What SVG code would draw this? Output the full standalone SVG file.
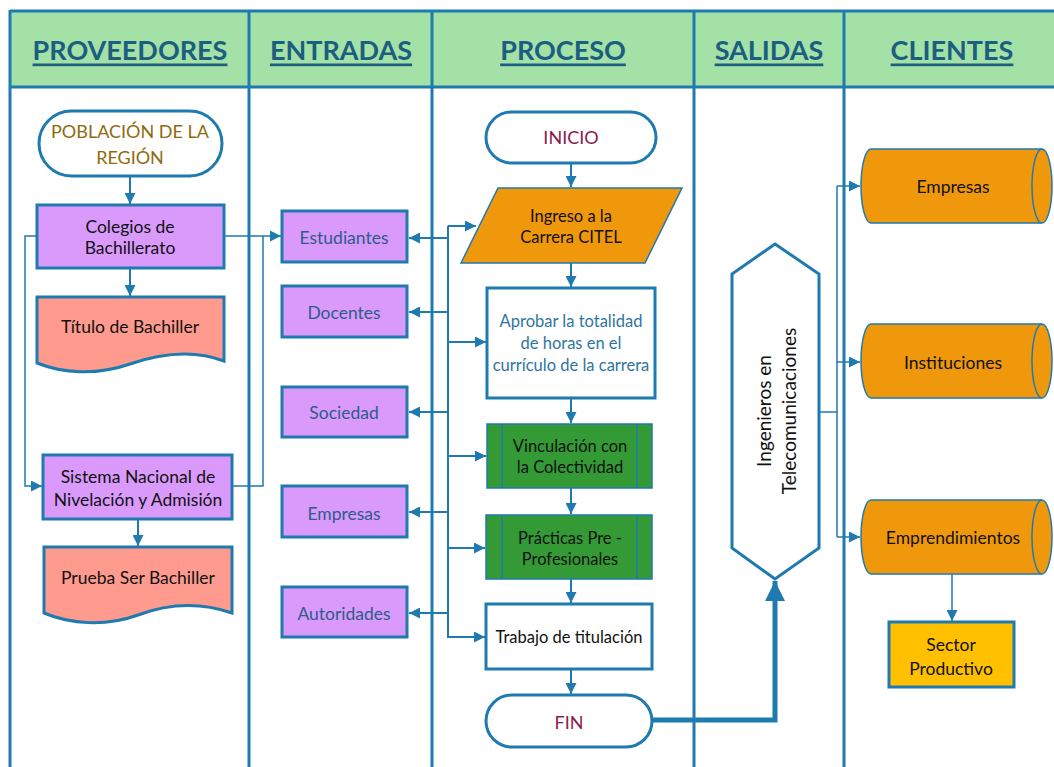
<svg xmlns="http://www.w3.org/2000/svg" width="1054" height="767" viewBox="0 0 1054 767">
<defs>
<marker id="ah" viewBox="0 0 10 10" refX="10" refY="5" markerWidth="11" markerHeight="11" markerUnits="userSpaceOnUse" orient="auto"><path d="M0,0 L10,5 L0,10 z" fill="#1f7ab0"/></marker>
<marker id="ahb" viewBox="0 0 10 10" refX="10" refY="5" markerWidth="20" markerHeight="20" markerUnits="userSpaceOnUse" orient="auto"><path d="M0,0 L10,5 L0,10 z" fill="#1f7ab0"/></marker>
</defs>
<style>
text{font-family:Lato,"Open Sans","Liberation Sans",sans-serif;text-anchor:middle;dominant-baseline:central}
.hd{font-size:27px;font-weight:bold;fill:#1b5e80;text-decoration:underline}
.lane{stroke:#1f7ab0;stroke-width:3;fill:none}
.box{stroke:#1f7ab0;stroke-width:3}
.thin{stroke:#1f7ab0;stroke-width:1.5}
.purple{fill:#d99afc}
.doc{fill:#ff9a8e}
.orange{fill:#f0980c}
.green{fill:#339a35}
.t{font-size:17.5px;fill:#111}
.tb{font-size:17.5px;fill:#2e5c8a}
.tp{font-size:16.5px;fill:#111}
.conn{stroke:#1f7ab0;stroke-width:2;fill:none}
.conn1{stroke:#1f7ab0;stroke-width:1.5;fill:none}
</style>
<rect width="1054" height="767" fill="#fff"/>
<g id="lanes">
<rect x="10" y="11" width="1050" height="76" fill="#a3e1a6"/>
<line class="lane" x1="10" y1="11" x2="1060" y2="11"/>
<line class="lane" x1="10" y1="87" x2="1060" y2="87"/>
<line class="lane" x1="10" y1="10" x2="10" y2="767"/>
<line class="lane" x1="249" y1="10" x2="249" y2="767"/>
<line class="lane" x1="432" y1="10" x2="432" y2="767"/>
<line class="lane" x1="694" y1="10" x2="694" y2="767"/>
<line class="lane" x1="844" y1="10" x2="844" y2="767"/>
<text class="hd" x="130" y="49">PROVEEDORES</text>
<text class="hd" x="341" y="49">ENTRADAS</text>
<text class="hd" x="563" y="49">PROCESO</text>
<text class="hd" x="769" y="49">SALIDAS</text>
<text class="hd" x="952" y="49">CLIENTES</text>
</g>
<g id="connectors">
<line class="conn" x1="130" y1="176" x2="130" y2="204" marker-end="url(#ah)"/>
<line class="conn" x1="130" y1="268" x2="130" y2="296" marker-end="url(#ah)"/>
<line class="conn" x1="138" y1="519" x2="138" y2="546" marker-end="url(#ah)"/>
<polyline class="conn1" points="224,236 281,236" marker-end="url(#ah)"/>
<polyline class="conn1" points="232,486 263,486 263,236"/>
<polyline class="conn1" points="37,236 25,236 25,486 42,486" marker-end="url(#ah)"/>
<line class="conn" x1="448" y1="226" x2="448" y2="638"/>
<line class="conn" x1="448" y1="226" x2="476" y2="226" marker-end="url(#ah)"/>
<line class="conn" x1="448" y1="342" x2="486" y2="342" marker-end="url(#ah)"/>
<line class="conn" x1="448" y1="456" x2="486" y2="456" marker-end="url(#ah)"/>
<line class="conn" x1="448" y1="548" x2="485" y2="548" marker-end="url(#ah)"/>
<line class="conn" x1="448" y1="637" x2="485" y2="637" marker-end="url(#ah)"/>
<line class="conn" x1="448" y1="238" x2="409" y2="238" marker-end="url(#ah)"/>
<line class="conn" x1="448" y1="312" x2="409" y2="312" marker-end="url(#ah)"/>
<line class="conn" x1="448" y1="412" x2="409" y2="412" marker-end="url(#ah)"/>
<line class="conn" x1="448" y1="512" x2="409" y2="512" marker-end="url(#ah)"/>
<line class="conn" x1="448" y1="613" x2="409" y2="613" marker-end="url(#ah)"/>
<line class="conn" x1="571" y1="163" x2="571" y2="187" marker-end="url(#ah)"/>
<line class="conn" x1="571" y1="263" x2="571" y2="287" marker-end="url(#ah)"/>
<line class="conn" x1="571" y1="398" x2="571" y2="423" marker-end="url(#ah)"/>
<line class="conn" x1="571" y1="488" x2="571" y2="514" marker-end="url(#ah)"/>
<line class="conn" x1="571" y1="579" x2="571" y2="603" marker-end="url(#ah)"/>
<line class="conn" x1="571" y1="669" x2="571" y2="694" marker-end="url(#ah)"/>
<polyline points="652,720 775,720 775,581" fill="none" stroke="#1f7ab0" stroke-width="5" marker-end="url(#ahb)"/>
<polyline class="conn1" points="819,412 837,412"/>
<line class="conn1" x1="837" y1="186" x2="837" y2="537"/>
<line class="conn1" x1="837" y1="186" x2="860" y2="186" marker-end="url(#ah)"/>
<line class="conn1" x1="837" y1="362" x2="860" y2="362" marker-end="url(#ah)"/>
<line class="conn1" x1="837" y1="537" x2="860" y2="537" marker-end="url(#ah)"/>
<line class="conn1" x1="952" y1="574" x2="952" y2="621" marker-end="url(#ah)"/>
</g>
<g id="poblacion">
<rect x="39" y="111" width="183" height="65" rx="32.5" fill="#fff" class="box"/>
<text x="130" y="131" font-size="18" fill="#8f6b10">POBLACIÓN DE LA</text>
<text x="130" y="157" font-size="18" fill="#8f6b10">REGIÓN</text>
</g>
<g id="colegios">
<rect x="37" y="205" width="187" height="63" class="box purple"/>
<text class="t" x="130" y="226">Colegios de</text>
<text class="t" x="130" y="247">Bachillerato</text>
</g>
<g id="titulo">
<path d="M37,297 H224 V361 C195,350 165,352 130,364 C95,376 62,373 37,363 Z" class="box doc"/>
<text class="t" x="130" y="326">Título de Bachiller</text>
</g>
<g id="sistema">
<rect x="43" y="455" width="189" height="64" class="box purple"/>
<text class="t" x="138" y="476">Sistema Nacional de</text>
<text class="t" x="138" y="499">Nivelación y Admisión</text>
</g>
<g id="prueba">
<path d="M44,547 H232 V613 C200,602 170,603 138,615 C105,627 70,624 44,613 Z" class="box doc"/>
<text class="t" x="138" y="577">Prueba Ser Bachiller</text>
</g>
<g id="estudiantes">
<rect x="282" y="211" width="125" height="51" class="box purple"/>
<text class="tb" x="344" y="237">Estudiantes</text>
</g>
<g id="docentes">
<rect x="282" y="286" width="125" height="51" class="box purple"/>
<text class="tb" x="344" y="312">Docentes</text>
</g>
<g id="sociedad">
<rect x="282" y="387" width="125" height="50" class="box purple"/>
<text class="tb" x="344" y="412">Sociedad</text>
</g>
<g id="empresas-in">
<rect x="282" y="486" width="125" height="51" class="box purple"/>
<text class="tb" x="344" y="513">Empresas</text>
</g>
<g id="autoridades">
<rect x="282" y="587" width="125" height="50" class="box purple"/>
<text class="tb" x="344" y="613">Autoridades</text>
</g>
<g id="inicio">
<rect x="486" y="112" width="170" height="51" rx="25.5" fill="#fff" class="box"/>
<text x="571" y="137" font-size="18" fill="#8b1a4c">INICIO</text>
</g>
<g id="ingreso">
<polygon points="498,188 682,188 645,263 461,263" class="thin orange"/>
<text class="tp" x="571" y="216">Ingreso a la</text>
<text class="tp" x="571" y="237">Carrera CITEL</text>
</g>
<g id="aprobar">
<rect x="487" y="288" width="168" height="110" fill="#fff" class="box"/>
<text x="571" y="321" font-size="16.5" fill="#2e75a2">Aprobar la totalidad</text>
<text x="571" y="343" font-size="16.5" fill="#2e75a2">de horas en el</text>
<text x="571" y="365" font-size="16.5" fill="#2e75a2">currículo de la carrera</text>
</g>
<g id="vinculacion">
<rect x="487" y="424" width="165" height="64" class="thin green"/>
<line class="thin" x1="502" y1="424" x2="502" y2="488"/>
<line class="thin" x1="637" y1="424" x2="637" y2="488"/>
<text class="tp" x="570" y="446">Vinculación con</text>
<text class="tp" x="570" y="467">la Colectividad</text>
</g>
<g id="practicas">
<rect x="486" y="515" width="166" height="64" class="thin green"/>
<line class="thin" x1="502" y1="515" x2="502" y2="579"/>
<line class="thin" x1="637" y1="515" x2="637" y2="579"/>
<text class="tp" x="570" y="538">Prácticas Pre -</text>
<text class="tp" x="570" y="559">Profesionales</text>
</g>
<g id="trabajo">
<rect x="486" y="604" width="166" height="65" fill="#fff" class="box"/>
<text class="tp" x="569" y="637">Trabajo de titulación</text>
</g>
<g id="fin">
<rect x="486" y="695" width="166" height="52" rx="26" fill="#fff" class="box"/>
<text x="569" y="722" font-size="18" fill="#8b1a4c">FIN</text>
</g>
<g id="ingenieros">
<polygon points="775,244 819,274 819,548 775,579 732,548 732,274" fill="#fff" class="box"/>
<text transform="translate(763,411) rotate(-90)" x="0" y="0" font-size="19" fill="#111">Ingenieros en</text>
<text transform="translate(788,411) rotate(-90)" x="0" y="0" font-size="19" fill="#111">Telecomunicaciones</text>
</g>
<g id="empresas-out">
<path d="M871,149 H1042 A10,37 0 0 1 1042,223 H871 A10,37 0 0 1 871,149 Z" class="thin orange"/>
<path d="M1042,149 A10,37 0 0 0 1042,223" class="thin" fill="none"/>
<text class="t" x="953" y="186">Empresas</text>
</g>
<g id="instituciones">
<path d="M871,324 H1042 A10,37 0 0 1 1042,398 H871 A10,37 0 0 1 871,324 Z" class="thin orange"/>
<path d="M1042,324 A10,37 0 0 0 1042,398" class="thin" fill="none"/>
<text class="t" x="953" y="362">Instituciones</text>
</g>
<g id="emprendimientos">
<path d="M871,500 H1042 A10,37 0 0 1 1042,574 H871 A10,37 0 0 1 871,500 Z" class="thin orange"/>
<path d="M1042,500 A10,37 0 0 0 1042,574" class="thin" fill="none"/>
<text class="t" x="953" y="537">Emprendimientos</text>
</g>
<g id="sector">
<rect x="889" y="622" width="125" height="65" fill="#ffc000" class="box"/>
<text class="t" x="951" y="644">Sector</text>
<text class="t" x="951" y="668">Productivo</text>
</g>
</svg>
